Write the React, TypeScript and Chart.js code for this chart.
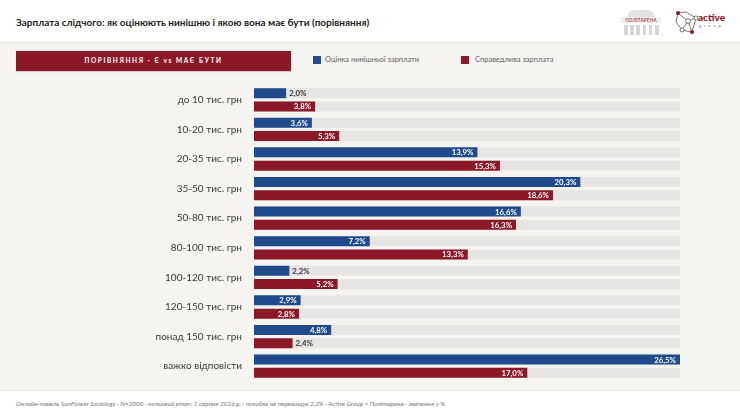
import React, { useEffect, useRef } from "react";
import { Chart, registerables } from "chart.js";

Chart.register(...registerables);

const categories = [
  "до 10 тис. грн",
  "10-20 тис. грн",
  "20-35 тис. грн",
  "35-50 тис. грн",
  "50-80 тис. грн",
  "80-100 тис. грн",
  "100-120 тис. грн",
  "120-150 тис. грн",
  "понад 150 тис. грн",
  "важко відповісти",
];
const currentSalary = [2.0, 3.6, 13.9, 20.3, 16.6, 7.2, 2.2, 2.9, 4.8, 26.5];
const fairSalary = [3.8, 5.3, 15.3, 18.6, 16.3, 13.3, 5.2, 2.8, 2.4, 17.0];
const seriesNames = ["Оцінка нинішньої зарплати", "Справедлива зарплата"];

const BLUE = "#1f4b8c";
const RED = "#8c1727";
const FONT = "Lato, 'Noto Sans', sans-serif";

const fmt = (v: number) => v.toFixed(1).replace(".", ",") + "%";

const trackPlugin = {
  id: "tracks",
  beforeDatasetsDraw(chart: any) {
    const { ctx, chartArea } = chart;
    ctx.save();
    ctx.fillStyle = "#e6e5e3";
    chart.data.datasets.forEach((_: any, di: number) => {
      const meta = chart.getDatasetMeta(di);
      meta.data.forEach((bar: any) => {
        const h = bar.height;
        ctx.fillRect(chartArea.left, bar.y - h / 2, chartArea.right - chartArea.left, h);
      });
    });
    ctx.restore();
  },
};

const labelPlugin = {
  id: "valueLabels",
  afterDatasetsDraw(chart: any) {
    const { ctx } = chart;
    ctx.save();
    ctx.font = `bold 7.8px ${FONT}`;
    ctx.textBaseline = "middle";
    chart.data.datasets.forEach((ds: any, di: number) => {
      const meta = chart.getDatasetMeta(di);
      meta.data.forEach((bar: any, i: number) => {
        const v = ds.data[i];
        const w = bar.x - bar.base;
        const t = fmt(v);
        if (w < 42) {
          ctx.fillStyle = "#333333";
          ctx.textAlign = "left";
          ctx.fillText(t, bar.x + 3, bar.y + 0.5);
        } else {
          ctx.fillStyle = "#ffffff";
          ctx.textAlign = "right";
          ctx.fillText(t, bar.x - 4, bar.y + 0.5);
        }
      });
    });
    ctx.restore();
  },
};

function ChartCanvas() {
  const ref = useRef<HTMLCanvasElement | null>(null);
  useEffect(() => {
    if (!ref.current) return;
    const chart = new Chart(ref.current, {
      type: "bar",
      data: {
        labels: categories,
        datasets: [
          {
            label: seriesNames[0],
            data: currentSalary,
            backgroundColor: BLUE,
            categoryPercentage: 0.9,
            barPercentage: 0.75,
          },
          {
            label: seriesNames[1],
            data: fairSalary,
            backgroundColor: RED,
            categoryPercentage: 0.9,
            barPercentage: 0.75,
          },
        ],
      },
      options: {
        indexAxis: "y",
        animation: false,
        responsive: false,
        maintainAspectRatio: false,
        layout: { padding: { left: 0, right: 60, top: 6, bottom: 11 } },
        plugins: {
          legend: { display: false },
          tooltip: { enabled: false },
        },
        scales: {
          x: {
            display: false,
            min: 0,
            max: 26.5,
          },
          y: {
            grid: { display: false, drawTicks: false },
            border: { display: false },
            ticks: {
              color: "#3a3a3a",
              font: { family: FONT, size: 10 },
              padding: 12,
            },
            afterFit: (s: any) => {
              s.width = 254;
            },
          },
        },
      },
      plugins: [trackPlugin, labelPlugin],
    } as any);
    return () => chart.destroy();
  }, []);
  return (
    <canvas
      ref={ref}
      width={740}
      height={332}
      style={{ position: "absolute", left: 0, top: 67, width: 740, height: 332 }}
    />
  );
}

function PolitarenaLogo() {
  const cols = [0, 1, 2, 3, 4, 5];
  return (
    <div style={{ position: "absolute", left: 621, top: 10, width: 40, height: 26 }}>
      <div
        style={{
          position: "absolute",
          left: 6,
          top: 0,
          width: 28,
          height: 8,
          borderRadius: "14px 14px 0 0",
          background: "#e2e2e2",
        }}
      />
      <div
        style={{
          position: "absolute",
          left: 0,
          top: 7,
          width: 40,
          fontSize: 4.6,
          fontFamily: FONT,
          fontWeight: 700,
          color: "#b0474f",
          textAlign: "center",
          letterSpacing: 0.2,
          background: "#f0efef",
          lineHeight: "6px",
        }}
      >
        ПОЛІТАРЕНА
      </div>
      {cols.map((c) => (
        <div
          key={c}
          style={{
            position: "absolute",
            left: 3 + c * 6.2,
            top: 15,
            width: 3.5,
            height: 10,
            background: "#d6d6d6",
          }}
        />
      ))}
    </div>
  );
}

function ActiveLogo() {
  return (
    <div style={{ position: "absolute", left: 672, top: 8, width: 62, height: 30 }}>
      <svg width={28} height={30} style={{ position: "absolute", left: 0, top: 0 }}>
        <g stroke="#555" strokeWidth={0.8} fill="none">
          <polyline points="6,5 4,14 10,22 20,24 24,10 14,4 6,5" />
          <line x1="6" y1="5" x2="16" y2="13" />
          <line x1="16" y1="13" x2="24" y2="10" />
          <line x1="16" y1="13" x2="10" y2="22" />
          <line x1="16" y1="13" x2="20" y2="24" />
        </g>
        <circle cx="6" cy="5" r="2" fill={RED} />
        <circle cx="24" cy="10" r="2" fill="#fff" stroke="#555" strokeWidth={0.8} />
        <circle cx="16" cy="13" r="2.4" fill="#fff" stroke="#555" strokeWidth={0.8} />
        <circle cx="10" cy="22" r="2" fill="#fff" stroke="#555" strokeWidth={0.8} />
        <circle cx="20" cy="24" r="2" fill={RED} />
      </svg>
      <div
        style={{
          position: "absolute",
          left: 26,
          top: 4,
          fontFamily: FONT,
          fontWeight: 900,
          fontSize: 10,
          color: RED,
          lineHeight: "11px",
        }}
      >
        active
      </div>
      <div
        style={{
          position: "absolute",
          left: 27,
          top: 15,
          fontFamily: FONT,
          fontSize: 4.5,
          color: "#777",
          letterSpacing: 2.6,
          lineHeight: "6px",
        }}
      >
        group
      </div>
    </div>
  );
}

export default function App() {
  useEffect(() => {
    document.body.style.margin = "0";
  }, []);
  return (
    <div
      style={{
        position: "fixed",
        left: 0,
        top: 0,
        width: 740,
        height: 416,
        background: "#ffffff",
        overflow: "hidden",
        fontFamily: FONT,
      }}
    >
      <div
        style={{
          position: "absolute",
          left: 16,
          top: 15,
          fontSize: 10,
          fontWeight: 700,
          color: "#222",
          lineHeight: "14px",
          whiteSpace: "nowrap",
        }}
      >
        Зарплата слідчого: як оцінюють нинішню і якою вона має бути (порівняння)
      </div>
      <PolitarenaLogo />
      <ActiveLogo />
      <div
        style={{
          position: "absolute",
          left: 0,
          top: 42,
          width: 740,
          height: 347,
          background: "#f5f4f1",
          borderTop: "1px solid #e8e7e3",
          borderBottom: "1px solid #e8e7e3",
        }}
      />
      <div
        style={{
          position: "absolute",
          left: 16,
          top: 51,
          width: 275,
          height: 20,
          background: RED,
          color: "#fff",
          fontSize: 6.5,
          fontWeight: 700,
          letterSpacing: 1.6,
          textAlign: "center",
          lineHeight: "20px",
          boxShadow: "0 1px 1px rgba(0,0,0,0.15)",
        }}
      >
        ПОРІВНЯННЯ · Є vs МАЄ БУТИ
      </div>
      <div style={{ position: "absolute", left: 313, top: 56, width: 8, height: 8, background: BLUE }} />
      <div
        style={{
          position: "absolute",
          left: 325,
          top: 55,
          fontSize: 7.5,
          color: "#666",
          lineHeight: "10px",
          whiteSpace: "nowrap",
        }}
      >
        {seriesNames[0]}
      </div>
      <div style={{ position: "absolute", left: 461, top: 56, width: 8, height: 8, background: RED }} />
      <div
        style={{
          position: "absolute",
          left: 475,
          top: 55,
          fontSize: 7.5,
          color: "#666",
          lineHeight: "10px",
          whiteSpace: "nowrap",
        }}
      >
        {seriesNames[1]}
      </div>
      <ChartCanvas />
      <div
        style={{
          position: "absolute",
          left: 16,
          top: 400,
          fontSize: 6.45,
          fontStyle: "italic",
          color: "#777",
          lineHeight: "8px",
          whiteSpace: "nowrap",
        }}
      >
        Онлайн-панель SunFlower Sociology · N=2000 · польовий етап: 1 серпня 2026 р. · похибка не перевищує 2,2% · Active Group × Політарена · значення у %
      </div>
    </div>
  );
}
